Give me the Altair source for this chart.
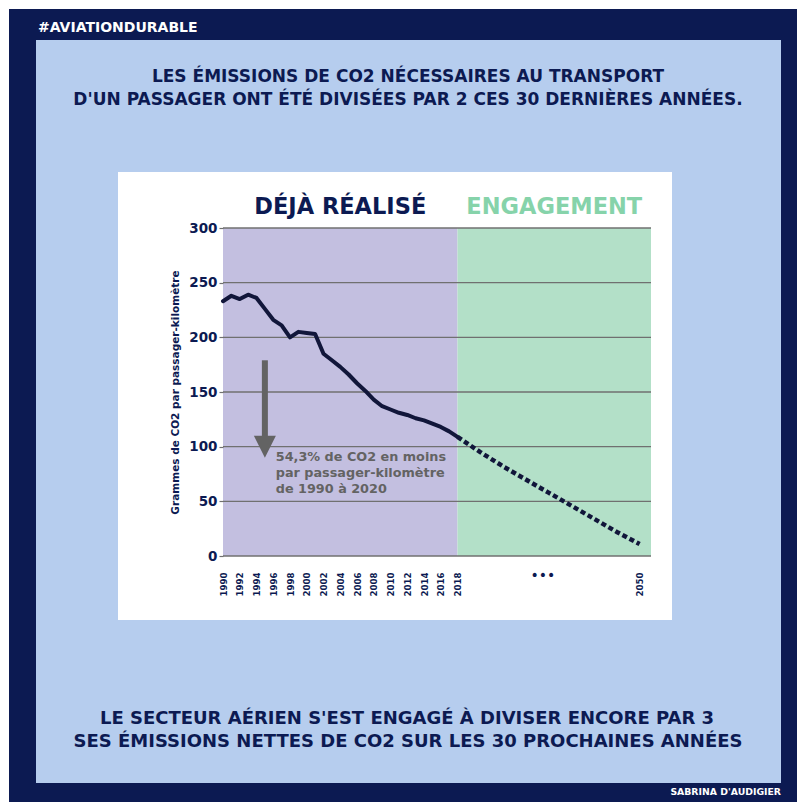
import altair as alt
import pandas as pd

# ---------------- data ----------------
years_hist = list(range(1990, 2019))
co2_hist = [233, 238, 235, 239, 236, 226, 216, 211, 200, 205, 204, 203, 185, 179,
            173, 166, 158, 151, 143, 137, 134, 131, 129, 126, 124, 121, 118, 114, 109]

years_goal = [2018, 2022, 2026, 2030, 2034, 2038, 2042, 2046, 2050]
co2_goal = [109, 95, 82, 70, 58, 46, 34, 22, 11]

zones = ["DÉJÀ RÉALISÉ", "ENGAGEMENT"]
zone_start = [1990, 2018]
zone_end = [2018, 2052]

grid_values = [0, 50, 100, 150, 200, 250, 300]
x_tick_years = list(range(1990, 2019, 2)) + [2050]
gap_year = 2033

arrow_year = 1995
arrow_top, arrow_bottom, arrow_head = 179, 108, 100
annot_lines = ["54,3% de CO2 en moins", "par passager-kilomètre", "de 1990 à 2020"]
annot_year = 1996.3
annot_y = [90.5, 75.9, 61.3]

hashtag = "#AVIATIONDURABLE"
title_lines = ["LES ÉMISSIONS DE CO2 NÉCESSAIRES AU TRANSPORT",
               "D'UN PASSAGER ONT ÉTÉ DIVISÉES PAR 2 CES 30 DERNIÈRES ANNÉES."]
bottom_lines = ["LE SECTEUR AÉRIEN S'EST ENGAGÉ À DIVISER ENCORE PAR 3",
                "SES ÉMISSIONS NETTES DE CO2 SUR LES 30 PROCHAINES ANNÉES"]
signature = "SABRINA D'AUDIGIER"
y_title = "Grammes de CO2 par passager-kilomètre"

# ---------------- style ----------------
NAVY = "#0c1a52"
LIGHTBLUE = "#b6cdee"
PURPLE = "#c3bfe0"
GREEN = "#b3e0c8"
GREEN_TXT = "#86d3aa"
LINE = "#11163a"
GRID = "#707070"
GREY_TXT = "#636363"
FONT = "DejaVu Sans"

W, H = 428, 328
PL, PT = 223, 228
TOTAL_W, TOTAL_H = 797, 802


def vx(px):
    return alt.value(px - PL)


def vy(py):
    return alt.value(py - PT)


xscale = alt.Scale(domain=[1990, 2018, 2052], range=[0, 234.5, 428], nice=False, zero=False)
yscale = alt.Scale(domain=[0, 300], nice=False, zero=True)

XAX = alt.Axis(values=x_tick_years, format="d", labelAngle=270, labelFont=FONT,
               labelFontSize=8.6, labelFontWeight="bold", labelColor=NAVY,
               labelPadding=16, ticks=False, domain=False, grid=False,
               labelOverlap=False, labelFlush=False, title=None, zindex=1)
YAX = alt.Axis(values=grid_values, labelFont=FONT, labelFontSize=13.5,
               labelFontWeight="bold", labelColor=NAVY, labelPadding=2,
               ticks=True, tickSize=4, tickColor=GRID, tickWidth=1.2,
               domain=False, grid=False, title=y_title, titleFont=FONT,
               titleFontSize=10.5, titleFontWeight="bold", titleColor=NAVY,
               titlePadding=8, zindex=1)


def X(field):
    return alt.X(field, scale=xscale, axis=XAX)


def Y(field):
    return alt.Y(field, scale=yscale, axis=YAX)


one = alt.Data(values=[{"a": 1}])

# decorative frames
navy = alt.Chart(one).mark_rect(color=NAVY).encode(x=vx(9), x2=vx(797), y=vy(9), y2=vy(802))
blue = alt.Chart(one).mark_rect(color=LIGHTBLUE).encode(x=vx(36), x2=vx(781), y=vy(40), y2=vy(783))
card = alt.Chart(one).mark_rect(color="white").encode(x=vx(118), x2=vx(672), y=vy(172), y2=vy(620))

# zones
zdf = pd.DataFrame({"zone": zones, "start": zone_start, "end": zone_end,
                    "lo": [0, 0], "hi": [300, 300],
                    "fill": [PURPLE, GREEN], "ink": [NAVY, GREEN_TXT]})
zdf["mid"] = (zdf["start"] + zdf["end"]) / 2

zone_rects = alt.Chart(zdf).mark_rect().encode(
    x=X("start:Q"), x2="end:Q",
    y=Y("lo:Q"), y2="hi:Q",
    color=alt.Color("fill:N", scale=None),
)

zone_heads = alt.Chart(zdf).mark_text(font=FONT, fontSize=22.5, fontWeight="bold",
                                      baseline="middle").encode(
    x=X("mid:Q"),
    y=vy(207),
    text="zone:N",
    color=alt.Color("ink:N", scale=None),
)

grid = alt.Chart(pd.DataFrame({"v": grid_values})).mark_rule(color=GRID, strokeWidth=1.3).encode(
    y=Y("v:Q")
)

hist = alt.Chart(pd.DataFrame({"year": years_hist, "co2": co2_hist})).mark_line(
    color=LINE, strokeWidth=4, strokeJoin="round", strokeCap="round").encode(
    x=X("year:Q"), y=Y("co2:Q"),
)

goal = alt.Chart(pd.DataFrame({"year": years_goal, "co2": co2_goal})).mark_line(
    color=LINE, strokeWidth=4.5, strokeDash=[5, 3]).encode(
    x=X("year:Q"), y=Y("co2:Q"),
)

arrow_shaft = alt.Chart(pd.DataFrame({"x": [arrow_year], "y1": [arrow_top], "y2": [arrow_bottom]})).mark_rule(
    color=GREY_TXT, strokeWidth=6).encode(
    x=X("x:Q"), y=Y("y1:Q"), y2="y2:Q",
)
arrow_tip = alt.Chart(pd.DataFrame({"x": [arrow_year], "y": [arrow_head]})).mark_point(
    shape="M-1,-1L1,-1L0,1Z", filled=True, size=484, color=GREY_TXT, opacity=1).encode(
    x=X("x:Q"), y=Y("y:Q"),
)

annot = alt.Chart(pd.DataFrame({"x": [annot_year] * 3, "y": annot_y, "t": annot_lines})).mark_text(
    font=FONT, fontSize=12.8, fontWeight="bold", color=GREY_TXT, align="left", baseline="middle").encode(
    x=X("x:Q"), y=Y("y:Q"), text="t:N",
)

dots = alt.Chart(pd.DataFrame({"x": [gap_year], "t": ["•••"]})).mark_text(
    font=FONT, fontSize=14, color=NAVY, baseline="middle").encode(
    x=X("x:Q"), y=vy(576), text="t:N",
)


def text_layer(txt, x, y, size, align="center", color=NAVY):
    return alt.Chart(one).mark_text(text=txt, font=FONT, fontSize=size, fontWeight="bold",
                                    color=color, align=align, baseline="middle").encode(
        x=vx(x), y=vy(y))


texts = [
    text_layer(hashtag, 38, 28, 14, align="left", color="white"),
    text_layer(title_lines[0], 408, 77, 17),
    text_layer(title_lines[1], 408, 100, 17),
    text_layer(bottom_lines[0], 407, 719, 18),
    text_layer(bottom_lines[1], 408, 742, 18),
    text_layer(signature, 781, 792, 9.3, align="right", color="white"),
]

chart = alt.layer(
    navy, blue, card, zone_rects, grid, hist, goal, arrow_shaft, arrow_tip, annot, dots, zone_heads, *texts
).properties(
    width=W, height=H,
    autosize=alt.AutoSizeParams(type="none"),
    padding={"left": PL, "top": PT, "right": TOTAL_W - PL - W, "bottom": TOTAL_H - PT - H},
    background="white",
).configure_view(stroke=None)

chart.save("out.html", embed_options={"renderer": "svg", "actions": False})
